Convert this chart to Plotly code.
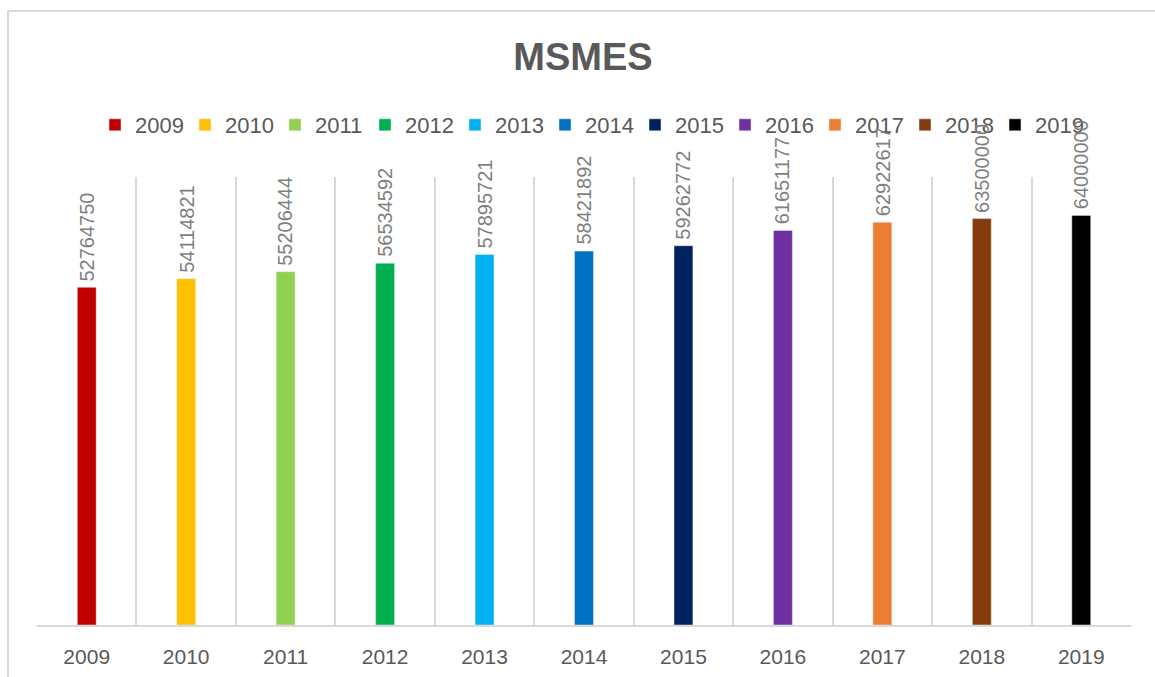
import plotly.graph_objects as go

years = ["2009", "2010", "2011", "2012", "2013", "2014", "2015", "2016", "2017", "2018", "2019"]
values = [52764750, 54114821, 55206444, 56534592, 57895721, 58421892, 59262772, 61651177, 62922617, 63500000, 64000000]
colors = ["#C00000", "#FFC000", "#92D050", "#00B050", "#00B0F0", "#0070C0",
          "#002060", "#7030A0", "#ED7D31", "#843C0C", "#000000"]
title_text = "MSMES"

FONT = "Liberation Sans"
W, H = 1155, 677
ML, MR, MT, MB = 37, 24, 177, 52
PW, PH = W - ML - MR, H - MT - MB

fig = go.Figure()
for y, v, c in zip(years, values, colors):
    fig.add_trace(go.Bar(x=[y], y=[v], name=y, marker_color=c, width=0.19))

# category index positions for the data labels
for i, v in enumerate(values):
    fig.add_annotation(x=i, y=v, text=str(v), textangle=-90, showarrow=False,
                       yanchor="bottom", xanchor="center", yshift=4,
                       font=dict(family=FONT, size=20, color="#7f7f7f"))

def px_x(p):
    return (p - ML) / PW

def px_y(p):
    return (H - MB - p) / PH

fig.update_layout(
    width=W, height=H,
    margin=dict(l=ML, r=MR, t=MT, b=MB),
    paper_bgcolor="white", plot_bgcolor="white",
    barmode="overlay",
    title=dict(text="<b>" + title_text + "</b>", x=583 / W, xanchor="center",
               y=1 - 57 / H, yanchor="middle",
               font=dict(family=FONT, size=38, color="#595959")),
    legend=dict(orientation="h", x=px_x(590), xanchor="center",
                y=px_y(125), yanchor="middle", bgcolor="rgba(0,0,0,0)",
                font=dict(family=FONT, size=22, color="#595959"),
                itemwidth=30, entrywidth=45, traceorder="normal"),
    xaxis=dict(type="category", categoryorder="array", categoryarray=years,
               range=[-0.5, len(years) - 0.5],
               tickson="boundaries", showgrid=True,
               gridcolor="#d9d9d9", gridwidth=1.5, showline=True,
               linecolor="#d9d9d9", linewidth=2, ticks="",
               ticklabelstandoff=12, automargin=False,
               tickfont=dict(family=FONT, size=21, color="#595959")),
    yaxis=dict(range=[0, 70000000], showgrid=False, showticklabels=False,
               zeroline=False, showline=False, automargin=False),
    shapes=[dict(type="rect", xref="paper", yref="paper",
                 x0=px_x(8), x1=px_x(1165), y0=px_y(690), y1=px_y(11),
                 line=dict(color="#d9d9d9", width=2), layer="below")],
)

fig.write_html("out.html", config={"displayModeBar": False},
               post_script="document.body.style.margin='0px';document.body.style.overflow='hidden';")
